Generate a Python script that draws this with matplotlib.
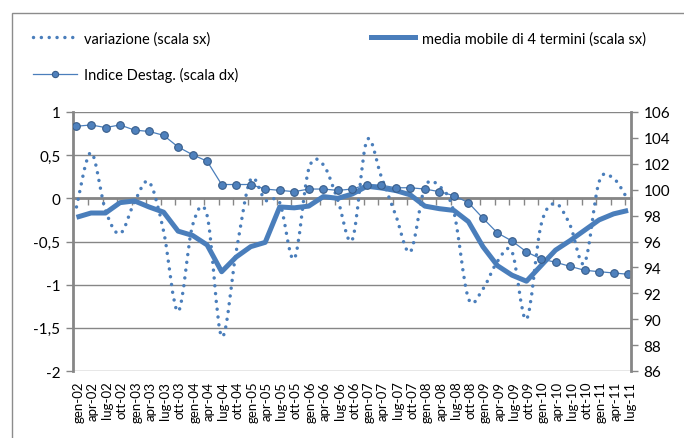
import numpy as np
import matplotlib
matplotlib.use("Agg")
import matplotlib.pyplot as plt
from matplotlib.path import Path
from matplotlib.patches import PathPatch, Rectangle
from matplotlib.lines import Line2D

plt.rcParams['font.family'] = ['Lato', 'DejaVu Sans']

# etichette trimestrali gen-02 ... lug-11
mesi = ["gen", "apr", "lug", "ott"]
anni = ["02", "03", "04", "05", "06", "07", "08", "09", "10", "11"]
trimestri = [m + "-" + a for a in anni for m in mesi][:39]

# variazione (scala sx)
variazione = [-0.10, 0.53, -0.14, -0.41, -0.04, 0.19, -0.38, -1.31, -0.31, -0.20,
              -1.60, -0.62, 0.22, -0.02, -0.05, -0.70, 0.34, 0.39, -0.02, -0.48,
              0.67, 0.25, -0.20, -0.62, 0.13, 0.14, -0.16, -1.16, -1.05, -0.73,
              -0.62, -1.40, -0.31, -0.06, -0.31, -0.75, 0.19, 0.23, -0.02]

# media mobile di 4 termini (scala sx)
media_mobile = [-0.22, -0.17, -0.17, -0.05, -0.03, -0.10, -0.16, -0.38, -0.43, -0.54,
                -0.85, -0.68, -0.56, -0.51, -0.10, -0.11, -0.09, 0.02, 0.00, 0.05,
                0.14, 0.12, 0.09, 0.04, -0.09, -0.12, -0.14, -0.27, -0.56, -0.78,
                -0.89, -0.96, -0.78, -0.60, -0.49, -0.37, -0.25, -0.18, -0.14]

# Indice Destag. (scala dx)
indice = [104.9, 105.0, 104.8, 105.0, 104.6, 104.5, 104.2, 103.3, 102.7, 102.2,
          100.4, 100.4, 100.4, 100.05, 99.95, 99.85, 100.05, 100.05, 99.95, 100.05,
          100.4, 100.35, 100.15, 100.15, 100.05, 99.85, 99.54, 99.0, 97.8, 96.66,
          96.04, 95.2, 94.65, 94.4, 94.08, 93.78, 93.67, 93.57, 93.47]

BLU = '#4a7ebb'
GRIGIO = '#868686'


def linea_smussata(xs, ys):
    # curva bezier come la "linea smussata" di excel
    pts = np.column_stack([xs, ys]).astype(float)
    n = len(pts)
    verts = [pts[0]]
    codes = [Path.MOVETO]
    for i in range(n - 1):
        p0 = pts[max(i - 1, 0)]
        p1 = pts[i]
        p2 = pts[i + 1]
        p3 = pts[min(i + 2, n - 1)]
        verts += [p1 + (p2 - p0) / 6, p2 - (p3 - p1) / 6, p2]
        codes += [Path.CURVE4] * 3
    return Path(verts, codes)


fig = plt.figure(figsize=(6.84, 4.39), dpi=100)
ax = fig.add_axes([73 / 684, 1 - 372 / 439, 558 / 684, 259 / 439])
ax2 = ax.twinx()

x = np.arange(len(trimestri))

dotted = (0, (0.01, 2.25))
patch = PathPatch(linea_smussata(x, variazione), fill=False, edgecolor=BLU,
                  lw=2.5, linestyle=dotted, capstyle='round', zorder=3)
ax.add_patch(patch)
ax.plot(x, media_mobile, color=BLU, lw=3.6, solid_joinstyle='round',
        solid_capstyle='butt', zorder=4)
ax2.plot(x, indice, color=BLU, lw=0.9, marker='o', ms=5.5,
         mfc='#4f81bd', mec='#385d8a', mew=0.8)

# asse sinistro
ax.set_xlim(-0.24, 38.2)
ax.set_ylim(-2, 1)
yt = np.arange(-2, 1.01, 0.5)
ax.set_yticks(yt)
ax.set_yticklabels([("%g" % v).replace(".", ",") for v in yt])
ax.yaxis.grid(True, color=GRIGIO, lw=1)
ax.set_axisbelow(True)
ax.tick_params(axis='y', direction='out', length=5, color=GRIGIO, width=1,
               labelsize=11, pad=4)

ax.spines['top'].set_visible(False)
ax2.spines['top'].set_visible(False)
ax2.spines['bottom'].set_visible(False)
ax2.spines['left'].set_visible(False)
ax.spines['right'].set_visible(False)
ax.spines['left'].set_color(GRIGIO)
ax.spines['left'].set_linewidth(2)
ax2.spines['right'].set_color(GRIGIO)
ax2.spines['right'].set_linewidth(2)
ax.spines['bottom'].set_position(('data', 0))
ax.spines['bottom'].set_color(GRIGIO)
ax.spines['bottom'].set_linewidth(2)

ax.set_xticks([])
ax.set_xticks(np.arange(1, 39) - 0.2, minor=True)
ax.tick_params(axis='x', which='minor', direction='out', length=5,
               color=GRIGIO, width=1)

sec = ax.secondary_xaxis('bottom')
sec.set_xticks(x + 0.12)
sec.set_xticklabels(trimestri, rotation=90)
sec.tick_params(length=0, pad=7, labelsize=9.5)
sec.spines['bottom'].set_visible(False)

# asse destro
ax2.set_ylim(86, 106)
ax2.set_yticks(np.arange(86, 107, 2))
ax2.tick_params(axis='y', direction='out', length=5, color=GRIGIO, width=1,
                labelsize=11, pad=4)

# legenda
h_var = Line2D([], [], color=BLU, lw=2.5, linestyle=dotted, dash_capstyle='round')
h_ind = Line2D([], [], color=BLU, lw=0.9, marker='o', ms=4.5,
               mfc='#4f81bd', mec='#385d8a', mew=0.8)
h_mm = Line2D([], [], color=BLU, lw=3.6)
fig.legend([h_var, h_ind, h_mm],
           ["variazione (scala sx)", "Indice Destag. (scala dx)",
            "media mobile di 4 termini (scala sx)"],
           ncol=2, loc='upper left', bbox_to_anchor=(33 / 684, 1 - 32 / 439),
           frameon=False, fontsize=10.5, handlelength=3.0, handletextpad=0.5,
           columnspacing=9.1, labelspacing=1.5, borderpad=0, borderaxespad=0)

# cornice del grafico
fig.patches.append(Rectangle((12 / 684, -0.1), 2, 1 - 14 / 439 + 0.1,
                             transform=fig.transFigure, fill=False,
                             ec='#8c8c8c', lw=1))

fig.savefig("out.png", dpi=100)
